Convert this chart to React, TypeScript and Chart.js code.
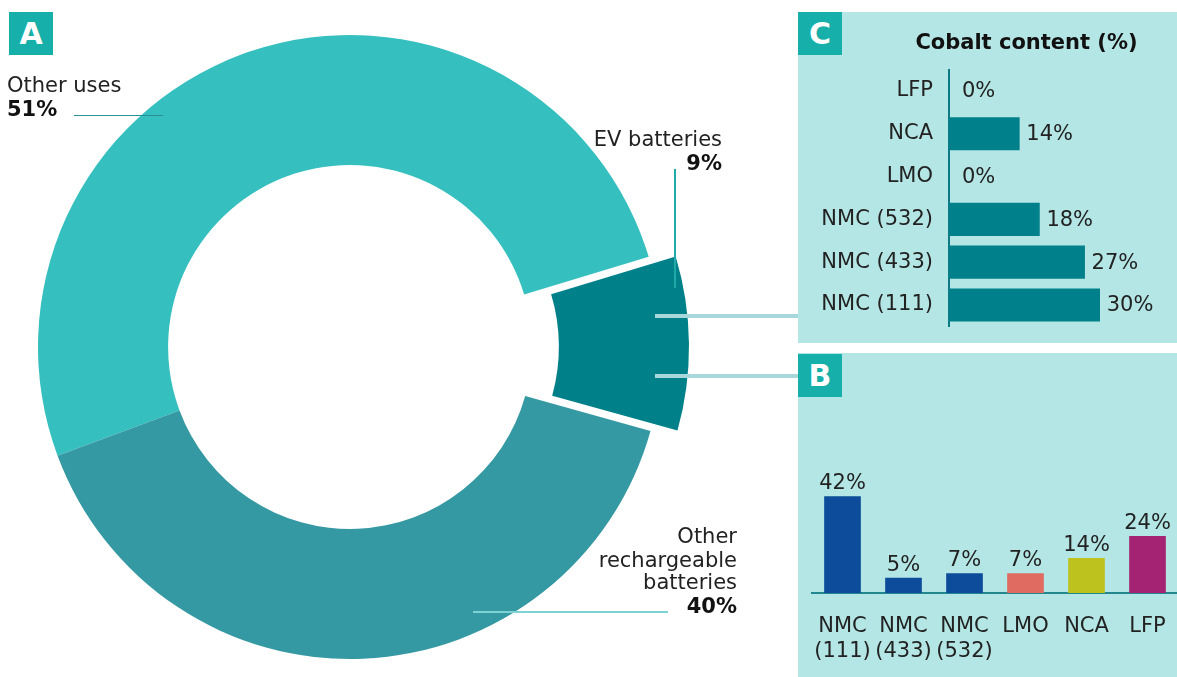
import React, { useEffect, useRef } from "react";
import { Chart, registerables } from "chart.js";

Chart.register(...registerables);

const FONT = "'DejaVu Sans', Verdana, sans-serif";
const TEXT = "#222222";

// ---- Panel A: cobalt end uses (share, %) ----
const useLabels = ["Other uses", "EV batteries", "Other rechargeable batteries"];
const useShares = [51, 9, 40];
const useColors = ["#36BFBF", "#00818A", "#3599A3"];

// ---- Panel C: cobalt content by chemistry (%) ----
const cobaltLabels = ["LFP", "NCA", "LMO", "NMC (532)", "NMC (433)", "NMC (111)"];
const cobaltValues = [0, 14, 0, 18, 27, 30];

// ---- Panel B: EV battery chemistry share (%) ----
const chemLabels = [["NMC", "(111)"], ["NMC", "(433)"], ["NMC", "(532)"], ["LMO"], ["NCA"], ["LFP"]];
const chemShares = [42, 5, 7, 7, 14, 24];
const chemColors = ["#0D4C9B", "#0D4C9B", "#0D4C9B", "#E06B61", "#BDC21F", "#A42373"];

const EXPLODE = [0, 27, 0];
const B_MIN = -1.8;

const explodePlugin = {
  id: "explodeSlice",
  beforeDatasetsDraw(chart: any) {
    const a = chart.chartArea;
    const cx = (a.left + a.right) / 2;
    const cy = (a.top + a.bottom) / 2;
    const meta = chart.getDatasetMeta(0);
    meta.data.forEach((arc: any, i: number) => {
      const off = EXPLODE[i] || 0;
      const mid = (arc.startAngle + arc.endAngle) / 2;
      arc.x = cx + Math.cos(mid) * off;
      arc.y = cy + Math.sin(mid) * off;
    });
  },
};

const cobaltLabelPlugin = {
  id: "cobaltLabels",
  afterDatasetsDraw(chart: any) {
    const ctx = chart.ctx;
    const meta = chart.getDatasetMeta(0);
    ctx.save();
    ctx.font = `21px ${FONT}`;
    ctx.fillStyle = TEXT;
    ctx.textAlign = "left";
    ctx.textBaseline = "middle";
    meta.data.forEach((bar: any, i: number) => {
      const v = cobaltValues[i];
      ctx.fillText(v + "%", bar.x + (v === 0 ? 13 : 7), bar.y + 1);
    });
    ctx.restore();
  },
};

const chemLabelPlugin = {
  id: "chemLabels",
  afterDatasetsDraw(chart: any) {
    const ctx = chart.ctx;
    const meta = chart.getDatasetMeta(0);
    ctx.save();
    ctx.font = `21px ${FONT}`;
    ctx.fillStyle = TEXT;
    ctx.textAlign = "center";
    ctx.textBaseline = "alphabetic";
    meta.data.forEach((bar: any, i: number) => {
      ctx.fillText(chemShares[i] + "%", bar.x, bar.y - 7.5);
    });
    ctx.restore();
  },
};

function Txt(props: { children: any; style: any; bold?: boolean }) {
  return (
    <div
      style={{
        position: "absolute",
        whiteSpace: "nowrap",
        fontFamily: FONT,
        fontSize: 21,
        lineHeight: "24px",
        color: props.bold ? "#111" : TEXT,
        fontWeight: props.bold ? "bold" : "normal",
        ...props.style,
      }}
    >
      {props.children}
    </div>
  );
}

function Box(props: { letter: string; left: number; top: number }) {
  return (
    <div
      style={{
        position: "absolute",
        left: props.left,
        top: props.top,
        width: 44,
        height: 43,
        background: "#17AFAA",
        color: "#fff",
        fontFamily: FONT,
        fontWeight: "bold",
        fontSize: 30,
        lineHeight: "43px",
        textAlign: "center",
      }}
    >
      {props.letter}
    </div>
  );
}

function Line(props: { left: number; top: number; width: number; height: number; color: string }) {
  return (
    <div
      style={{
        position: "absolute",
        left: props.left,
        top: props.top,
        width: props.width,
        height: props.height,
        background: props.color,
      }}
    />
  );
}

export default function App() {
  const donutRef = useRef<HTMLCanvasElement>(null);
  const cRef = useRef<HTMLCanvasElement>(null);
  const bRef = useRef<HTMLCanvasElement>(null);

  useEffect(() => {
    const donut = new Chart(donutRef.current as HTMLCanvasElement, {
      type: "doughnut",
      data: {
        labels: useLabels,
        datasets: [
          {
            data: useShares,
            backgroundColor: useColors,
            borderWidth: 0,
            hoverOffset: 0,
          },
        ],
      },
      options: {
        responsive: false,
        animation: false,
        events: [],
        rotation: 249.6,
        cutout: "58.3%",
        radius: 312,
        layout: { padding: 0 },
        plugins: { legend: { display: false }, tooltip: { enabled: false } },
      } as any,
      plugins: [explodePlugin],
    });

    const cChart = new Chart(cRef.current as HTMLCanvasElement, {
      type: "bar",
      data: {
        labels: cobaltLabels,
        datasets: [
          {
            data: cobaltValues,
            backgroundColor: "#00808A",
            barThickness: 32.5,
          },
        ],
      },
      options: {
        indexAxis: "y",
        responsive: false,
        animation: false,
        events: [],
        layout: { padding: { top: 57.5, bottom: 16.6, left: 0, right: 2 } },
        scales: {
          x: { display: false, min: 0, max: 45 },
          y: {
            grid: { display: false, drawTicks: false },
            border: { display: true, color: "#0E7A84", width: 2 },
            ticks: { color: TEXT, font: { family: FONT, size: 21 }, padding: 16 },
            afterFit: (s: any) => {
              s.width = 151;
              s.paddingTop = 0;
              s.paddingBottom = 0;
            },
          },
        },
        plugins: { legend: { display: false }, tooltip: { enabled: false } },
      } as any,
      plugins: [cobaltLabelPlugin],
    });

    const bChart = new Chart(bRef.current as HTMLCanvasElement, {
      type: "bar",
      data: {
        labels: chemLabels as any,
        datasets: [
          {
            data: chemShares,
            backgroundColor: chemColors,
            barThickness: 36,
            base: B_MIN,
          } as any,
        ],
      },
      options: {
        responsive: false,
        animation: false,
        events: [],
        layout: { padding: { top: 104, bottom: 0, left: 14, right: 2 } },
        scales: {
          y: { display: false, min: B_MIN, max: 60 },
          x: {
            grid: { display: false, drawTicks: false },
            border: { display: true, color: "#22878F", width: 2 },
            ticks: {
              color: TEXT,
              font: { family: FONT, size: 21, lineHeight: 25 / 21 },
              padding: 21,
              maxRotation: 0,
              autoSkip: false,
            },
            afterFit: (s: any) => {
              s.height = 84;
              s.paddingLeft = 0;
              s.paddingRight = 0;
            },
          },
        },
        plugins: { legend: { display: false }, tooltip: { enabled: false } },
      } as any,
      plugins: [chemLabelPlugin],
    });

    return () => {
      donut.destroy();
      cChart.destroy();
      bChart.destroy();
    };
  }, []);

  return (
    <div
      style={{
        position: "fixed",
        left: 0,
        top: 0,
        width: 1177,
        height: 677,
        overflow: "hidden",
        background: "#fff",
      }}
    >
      {/* Panel backgrounds */}
      <div style={{ position: "absolute", left: 798, top: 12, width: 379, height: 331, background: "#B3E6E4" }} />
      <div style={{ position: "absolute", left: 798, top: 353, width: 379, height: 324, background: "#B3E6E4" }} />

      {/* Charts */}
      <canvas
        ref={donutRef}
        width={700}
        height={694}
        style={{ position: "absolute", left: 0, top: 0, width: 700, height: 694 }}
      />
      <canvas
        ref={cRef}
        width={379}
        height={331}
        style={{ position: "absolute", left: 798, top: 12, width: 379, height: 331 }}
      />
      <canvas
        ref={bRef}
        width={382}
        height={324}
        style={{ position: "absolute", left: 798, top: 353, width: 382, height: 324 }}
      />

      {/* Connectors */}
      <Line left={655} top={314} width={143} height={4} color="#A8D8DC" />
      <Line left={655} top={374} width={143} height={4} color="#A8D8DC" />

      {/* Leader lines */}
      <Line left={74} top={114.5} width={89} height={1.5} color="#2A8F97" />
      <Line left={674} top={169} width={1.5} height={119} color="#1FAAAA" />
      <Line left={473} top={611} width={195} height={2} color="#7DD3D3" />

      {/* Panel A labels */}
      <Txt style={{ left: 7, top: 73 }}>Other uses</Txt>
      <Txt bold style={{ left: 7, top: 96.7 }}>51%</Txt>
      <Txt style={{ right: 455, top: 127, textAlign: "right" }}>EV batteries</Txt>
      <Txt bold style={{ right: 455, top: 150.5, textAlign: "right" }}>9%</Txt>
      <Txt style={{ right: 440, top: 523.5, textAlign: "right" }}>Other</Txt>
      <Txt style={{ right: 440, top: 547.5, textAlign: "right" }}>rechargeable</Txt>
      <Txt style={{ right: 440, top: 570, textAlign: "right" }}>batteries</Txt>
      <Txt bold style={{ right: 440, top: 594, textAlign: "right" }}>40%</Txt>

      {/* Panel C title */}
      <Txt bold style={{ left: 876.5, width: 300, top: 30, textAlign: "center" }}>Cobalt content (%)</Txt>

      {/* Letter boxes */}
      <Box letter="A" left={9} top={12} />
      <Box letter="C" left={798} top={12} />
      <Box letter="B" left={798} top={354} />
    </div>
  );
}
